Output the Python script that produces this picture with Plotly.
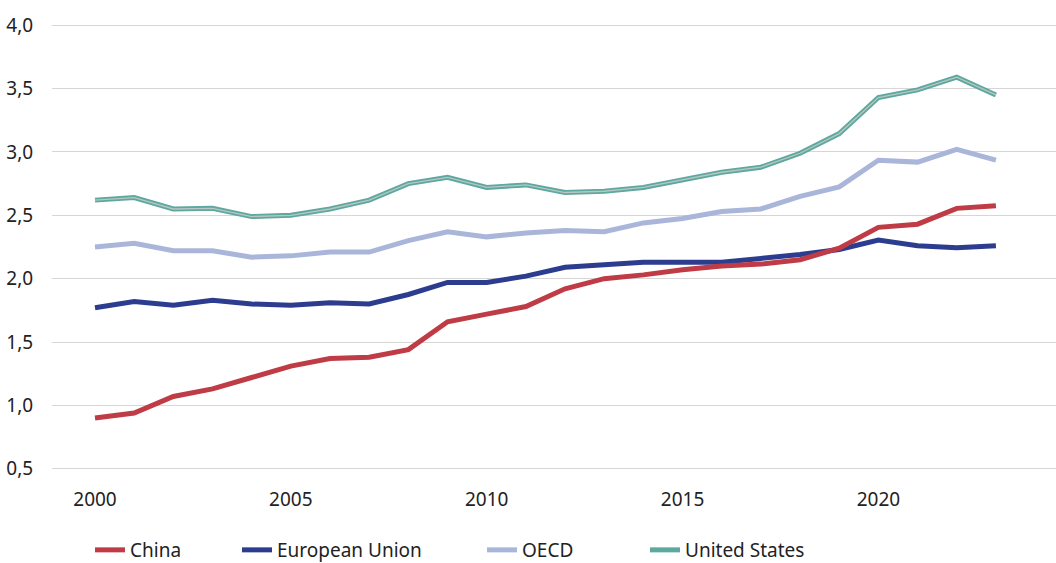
import plotly.graph_objects as go

years = list(range(2000, 2024))

china = [0.90, 0.94, 1.07, 1.13, 1.22, 1.31, 1.37, 1.38, 1.44, 1.66, 1.72, 1.78,
         1.92, 2.00, 2.03, 2.07, 2.10, 2.115, 2.15, 2.24, 2.405, 2.43, 2.555, 2.575]
eu = [1.77, 1.82, 1.79, 1.83, 1.80, 1.79, 1.81, 1.80, 1.875, 1.97, 1.97, 2.02,
      2.09, 2.11, 2.13, 2.13, 2.13, 2.16, 2.19, 2.23, 2.305, 2.26, 2.245, 2.26]
oecd = [2.25, 2.28, 2.22, 2.22, 2.17, 2.18, 2.21, 2.21, 2.30, 2.37, 2.33, 2.36,
        2.38, 2.37, 2.44, 2.475, 2.53, 2.55, 2.65, 2.725, 2.935, 2.92, 3.02, 2.935]
us = [2.62, 2.64, 2.55, 2.555, 2.49, 2.50, 2.55, 2.62, 2.75, 2.80, 2.72, 2.74,
      2.68, 2.69, 2.72, 2.78, 2.84, 2.88, 2.99, 3.145, 3.43, 3.49, 3.59, 3.45]

y_ticks = [0.5, 1.0, 1.5, 2.0, 2.5, 3.0, 3.5, 4.0]
y_labels = ["0,5", "1,0", "1,5", "2,0", "2,5", "3,0", "3,5", "4,0"]
x_ticks = [2000, 2005, 2010, 2015, 2020]

FONT = "Noto Sans"
FS = 19
W, H = 1056, 563
ML, MR, MT, MB = 52, 0, 24, 93
PH = H - MT - MB
PW = W - ML - MR

fig = go.Figure()
fig.add_trace(go.Scatter(x=years, y=us, mode="lines", name="United States",
                         line=dict(color="#5DA89F", width=5), legend="legend4"))
fig.add_trace(go.Scatter(x=years, y=us, mode="lines", showlegend=False, hoverinfo="skip",
                         line=dict(color="#B9C6C2", width=1.3)))
fig.add_trace(go.Scatter(x=years, y=oecd, mode="lines", name="OECD",
                         line=dict(color="#A9B6D9", width=5), legend="legend3"))
fig.add_trace(go.Scatter(x=years, y=eu, mode="lines", name="European Union",
                         line=dict(color="#2C3C8E", width=5), legend="legend2"))
fig.add_trace(go.Scatter(x=years, y=china, mode="lines", name="China",
                         line=dict(color="#BF3B45", width=5), legend="legend"))

legend_y = -(550 - (MT + PH)) / PH


def leg(xpx):
    return dict(x=(xpx - ML) / PW, y=legend_y, xanchor="left", yanchor="middle",
                orientation="h", font=dict(family=FONT, size=FS, color="#222222"),
                bgcolor="rgba(0,0,0,0)", borderwidth=0)


fig.update_layout(
    width=W, height=H,
    margin=dict(l=ML, r=MR, t=MT, b=MB, autoexpand=False),
    paper_bgcolor="white", plot_bgcolor="white",
    font=dict(family=FONT, size=FS, color="#222222"),
    legend=leg(90),
    legend2=leg(237),
    legend3=leg(482),
    legend4=leg(645),
    xaxis=dict(
        range=[2000 - 43 / 39.17, 2000 + (W - ML - MR - 43) / 39.17],
        tickvals=x_ticks, ticktext=[str(v) for v in x_ticks],
        showgrid=False, zeroline=False, showline=False,
        ticks="outside", ticklen=12, tickcolor="rgba(0,0,0,0)",
        tickfont=dict(family=FONT, size=FS, color="#222222"),
    ),
    yaxis=dict(
        range=[0.49, 4.01],
        tickvals=y_ticks, ticktext=y_labels,
        showgrid=True, gridcolor="#D6D6D6", gridwidth=1.2,
        zeroline=False, showline=False,
        ticks="outside", ticklen=14, tickcolor="rgba(0,0,0,0)",
        tickfont=dict(family=FONT, size=FS, color="#222222"),
    ),
)

fig.write_html("out.html")
